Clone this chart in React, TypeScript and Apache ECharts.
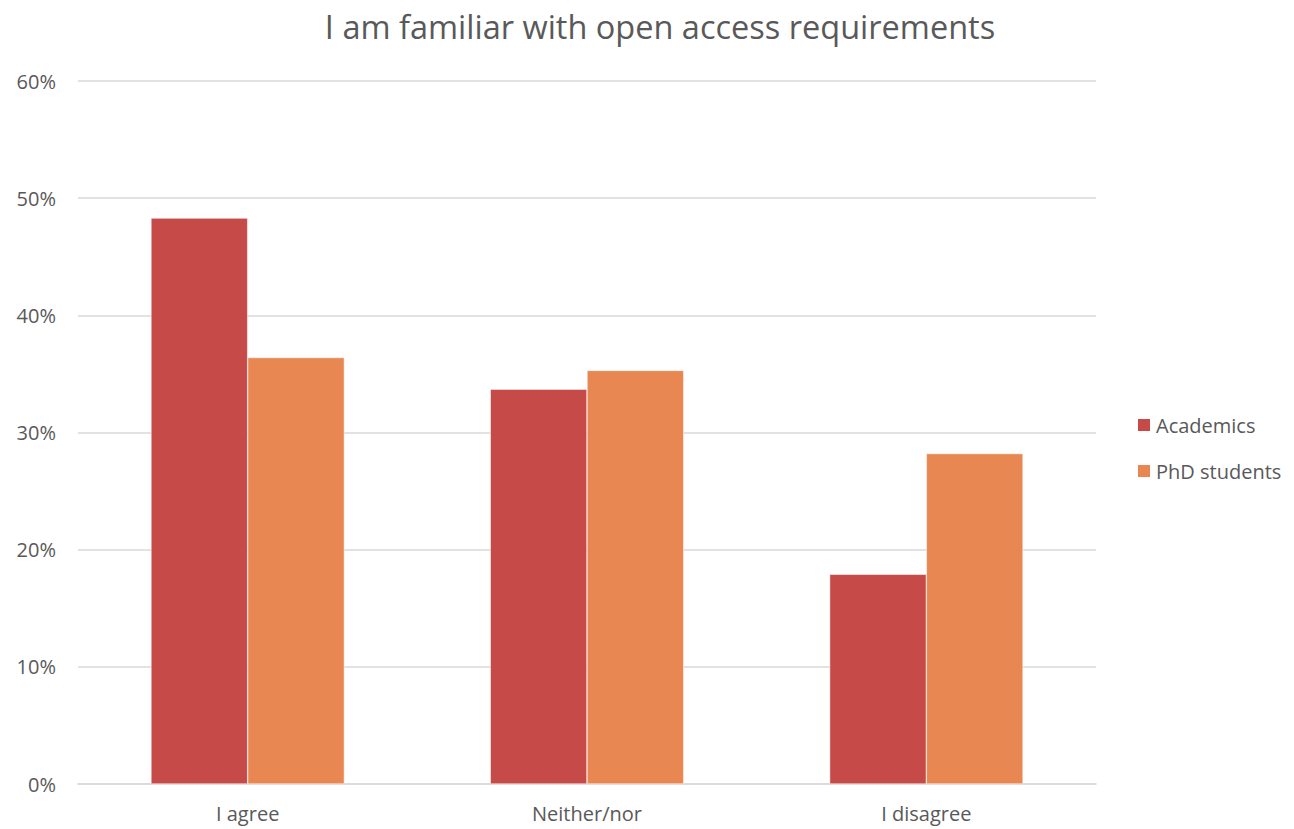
import React, { useEffect, useRef } from "react";
import * as echarts from "echarts";

const categories = ["I agree", "Neither/nor", "I disagree"];
const academics = [48.3, 33.7, 17.9];
const phdStudents = [36.4, 35.3, 28.2];
const seriesNames = ["Academics", "PhD students"];

export default function App() {
  const ref = useRef<HTMLDivElement>(null);
  useEffect(() => {
    const chart = echarts.init(ref.current!, null, { renderer: "svg" });
    const font = "'Open Sans', 'Noto Sans', sans-serif";
    chart.setOption({
      animation: false,
      textStyle: { fontFamily: font },
      title: {
        text: "I am familiar with open access requirements",
        left: 655,
        textAlign: "center",
        top: 5,
        textStyle: { fontSize: 32.5, fontWeight: "normal", color: "#595959", fontFamily: font },
      },
      legend: {
        orient: "vertical",
        left: 1131,
        top: 410,
        itemWidth: 14,
        itemHeight: 14,
        itemGap: 26,
        icon: "rect",
        textStyle: { fontSize: 20, color: "#595959", fontFamily: font },
        data: seriesNames,
      },
      grid: { left: 78, right: 198, top: 81, bottom: 45, containLabel: false },
      xAxis: {
        type: "category",
        data: categories,
        axisLine: { lineStyle: { color: "#d9d9d9", width: 1.5 } },
        axisTick: { show: false },
        axisLabel: { fontSize: 20, color: "#595959", margin: 19, fontFamily: font },
      },
      yAxis: {
        type: "value",
        min: 0,
        max: 60,
        interval: 10,
        axisLine: { show: false },
        axisTick: { show: false },
        splitLine: { lineStyle: { color: "#d9d9d9", width: 1.5 } },
        axisLabel: { fontSize: 20, color: "#595959", margin: 22, formatter: "{value}%", fontFamily: font },
      },
      series: [
        {
          name: seriesNames[0],
          type: "bar",
          data: academics,
          barGap: "0%",
          barCategoryGap: "43%",
          itemStyle: { color: "#C64A48", borderColor: "#ffffff", borderWidth: 0.5 },
        },
        {
          name: seriesNames[1],
          type: "bar",
          data: phdStudents,
          barGap: "0%",
          barCategoryGap: "43%",
          itemStyle: { color: "#E88751", borderColor: "#ffffff", borderWidth: 0.5 },
        },
      ],
    });
    return () => chart.dispose();
  }, []);
  return (
    <div
      ref={ref}
      style={{ position: "fixed", left: 0, top: 0, width: 1294, height: 829, background: "#fff" }}
    />
  );
}
